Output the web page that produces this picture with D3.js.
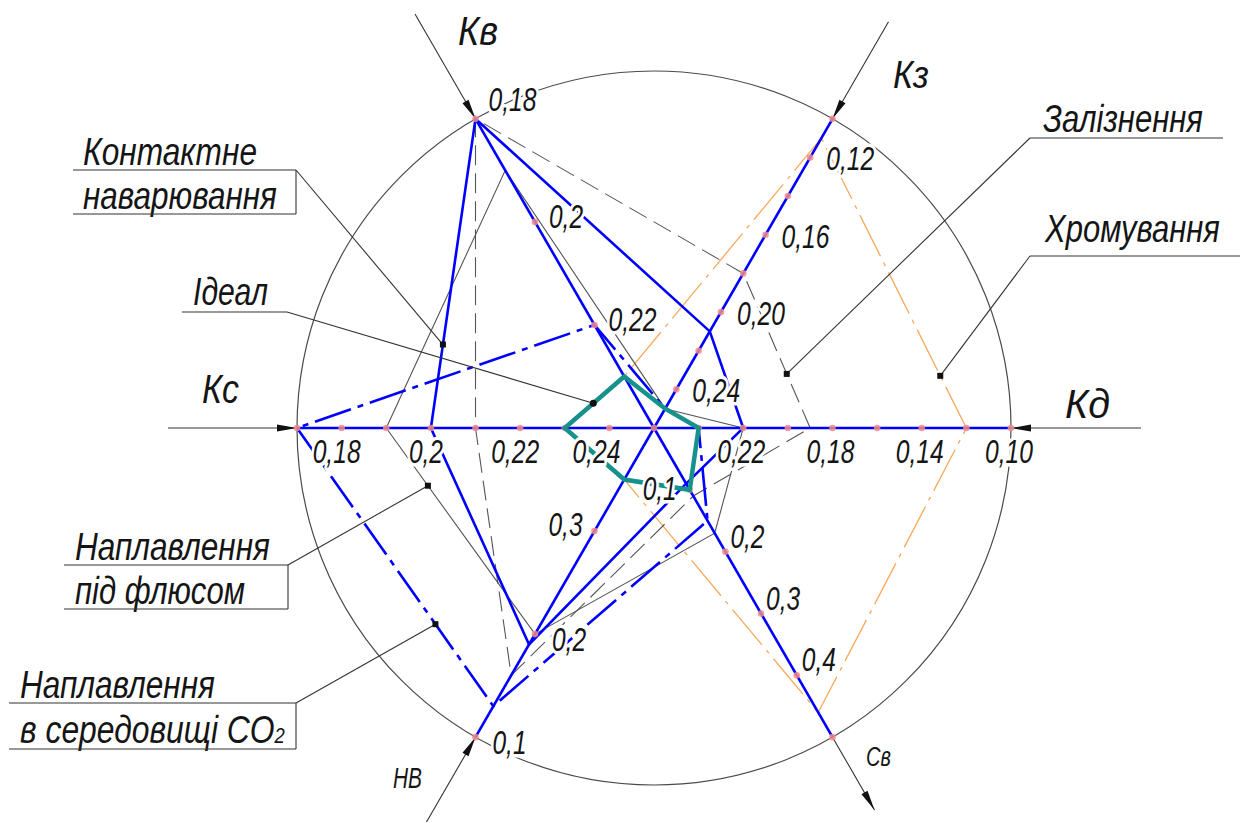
<!DOCTYPE html>
<html>
<head>
<meta charset="utf-8">
<script src="https://cdn.jsdelivr.net/npm/d3@7"></script>
<style>
  body { margin: 0; background: #fff; }
  text { font-family: "Liberation Sans", Arial, sans-serif; font-style: italic; fill: #151515; }
</style>
</head>
<body>
<svg id="chart"></svg>
<script>
// axes, going round counter-clockwise from the right
var axes = ["Кд", "Кз", "Кв", "Кс", "НВ", "Св"];
var axisAngle = [0, 60, 120, 180, 240, 300];
var axisCentre = [0.26, 0.26, 0.24, 0.25, 0.4, 0];
var axisEdge = [0.10, 0.10, 0.18, 0.17, 0.1, 0.5];

// tick dots on every axis
var axisTicks = [
    [0.24, 0.22, 0.20, 0.18, 0.16, 0.14, 0.12, 0.10],
    [0.24, 0.22, 0.20, 0.18, 0.16, 0.14, 0.12, 0.10],
    [0.22, 0.20, 0.18],
    [0.24, 0.23, 0.22, 0.21, 0.20, 0.19, 0.18, 0.17],
    [0.3, 0.2, 0.1],
    [0.1, 0.2, 0.3, 0.4, 0.5]
];
// labelled ticks and their text
var labelTicks = [
    [0.22, 0.18, 0.14, 0.10],
    [0.24, 0.20, 0.16, 0.12],
    [0.22, 0.20, 0.18],
    [0.24, 0.22, 0.20, 0.18],
    [0.3, 0.2, 0.1],
    [0.1, 0.2, 0.3, 0.4]
];
var labelTexts = [
    ["0,22", "0,18", "0,14", "0,10"],
    ["0,24", "0,20", "0,16", "0,12"],
    ["0,22", "0,2", "0,18"],
    ["0,24", "0,22", "0,2", "0,18"],
    ["0,3", "0,2", "0,1"],
    ["0,1", "0,2", "0,3", "0,4"]
];

// series values, same order as axes
var chrome  = [0.12, 0.11, 0.23, 0.23, 0.35, 0.46];
var iron    = [0.19, 0.18, 0.18, 0.21, 0.16, 0.11];
var flux    = [0.22, 0.25, 0.19, 0.19, 0.20, 0.17];
var co2     = [0.24, 0.25, 0.22, 0.17, 0.13, 0.15];
var contact = [0.22, 0.21, 0.18, 0.20, 0.19, 0.09];
var ideal   = [0.24, 0.25, 0.23, 0.23, 0.35, 0.10];

var W = 1252, H = 823;
var cx = 654, cy = 428, R = 357;

var svg = d3.select("#chart").attr("width", W).attr("height", H);

var scales = axes.map(function(a, i) {
    return d3.scaleLinear().domain([axisCentre[i], axisEdge[i]]).range([0, R]);
});

function unit(i) {
    var a = axisAngle[i] * Math.PI / 180;
    return [Math.cos(a), -Math.sin(a)];
}
function pointAt(i, r) {
    var u = unit(i);
    return [cx + r * u[0], cy + r * u[1]];
}
function point(i, v) {
    return pointAt(i, scales[i](v));
}

// outer circle
svg.append("circle")
    .attr("cx", cx).attr("cy", cy).attr("r", R)
    .attr("fill", "none").attr("stroke", "#4a4a4a").attr("stroke-width", 1.2);

// axis arrows outside the circle
var arrowLen = [130, 112, 121, 129, 98, 84];
var arrowIn = [true, true, true, true, true, false];
axes.forEach(function(a, i) {
    var u = unit(i);
    var p = pointAt(i, R), q = pointAt(i, R + arrowLen[i]);
    svg.append("line")
        .attr("x1", p[0]).attr("y1", p[1]).attr("x2", q[0]).attr("y2", q[1])
        .attr("stroke", "#333").attr("stroke-width", 1.1);
    var tip = arrowIn[i] ? p : q;
    var dir = arrowIn[i] ? 1 : -1;
    var b = [tip[0] + dir * 20 * u[0], tip[1] + dir * 20 * u[1]];
    var n = [-u[1] * 3.5, u[0] * 3.5];
    svg.append("path")
        .attr("d", "M" + tip + "L" + [b[0] + n[0], b[1] + n[1]] + "L" + [b[0] - n[0], b[1] - n[1]] + "Z")
        .attr("fill", "#111");
});

// series polygons
var polyLine = d3.line().curve(d3.curveLinearClosed);
function polygon(values) {
    return values.map(function(v, i) { return point(i, v); });
}

var series = [
    { name: "chrome", values: chrome, stroke: "#f9a95c", width: 1.3, dash: "46 7 4 7" },
    { name: "iron", values: iron, stroke: "#555", width: 1.1, dash: "20 8" },
    { name: "flux", values: flux, stroke: "#555", width: 1.1, dash: null },
    { name: "co2", values: co2, stroke: "#0000ff", width: 2.6, dash: "38 7 6 7" },
    { name: "contact", values: contact, stroke: "#0000ff", width: 2.6, dash: null }
];

series.forEach(function(s) {
    svg.append("path")
        .attr("d", polyLine(polygon(s.values)))
        .attr("fill", "none")
        .attr("stroke", s.stroke)
        .attr("stroke-width", s.width)
        .attr("stroke-dasharray", s.dash);
});

// blue axes
axes.forEach(function(a, i) {
    var p = pointAt(i, R);
    svg.append("line")
        .attr("x1", cx).attr("y1", cy).attr("x2", p[0]).attr("y2", p[1])
        .attr("stroke", "#0000ff").attr("stroke-width", 2.6);
});

// tick dots
axisTicks.forEach(function(ticks, i) {
    svg.selectAll(null).data(ticks).enter().append("circle")
        .attr("cx", function(d) { return point(i, d)[0]; })
        .attr("cy", function(d) { return point(i, d)[1]; })
        .attr("r", 3.3)
        .attr("fill", "#f28b8b").attr("opacity", 0.85);
});
svg.append("circle").attr("cx", cx).attr("cy", cy).attr("r", 3.3)
    .attr("fill", "#f28b8b").attr("opacity", 0.85);

// ideal on top
svg.append("path")
    .attr("d", polyLine(polygon(ideal)))
    .attr("fill", "none")
    .attr("stroke", "#17918c")
    .attr("stroke-width", 4.5)
    .attr("stroke-linejoin", "miter");

// narrow drawing-style text: squeeze a string horizontally to a given width
function narrowText(sel, x, y, width, anchor) {
    sel.attr("x", 0).attr("y", 0).attr("text-anchor", "start");
    var w = sel.node().getComputedTextLength();
    var k = width / w;
    var tx = anchor === "middle" ? x - width / 2 : anchor === "end" ? x - width : x;
    sel.attr("transform", "translate(" + tx + "," + y + ") scale(" + k + ",1)");
    return sel;
}
function digitWidth(txt) {
    return txt.replace(",", "").length * 14 + 6;
}

// tick labels (offset from the tick dot)
var labelShift = [
    { dx: -2, dy: 35, anchor: "middle" },
    { dx: 16, dy: 13, anchor: "start" },
    { dx: 14, dy: 6, anchor: "start" },
    { dx: -5, dy: 35, anchor: "middle" },
    { dx: 17, dy: 17, anchor: "start" },
    { dx: 5, dy: -4, anchor: "start" }
];
var labelOverride = {
    "2:0,18": { dx: 13, dy: -8 },
    "4:0,3": { dx: -12, dy: 5, anchor: "end" },
    "5:0,1": { dx: -13, dy: 10, anchor: "end" },
    "3:0,24": { dx: -13, dy: 35 }
};
labelTicks.forEach(function(ticks, i) {
    ticks.forEach(function(v, k) {
        var txt = labelTexts[i][k];
        var s = Object.assign({}, labelShift[i], labelOverride[i + ":" + txt] || {});
        var p = point(i, v);
        var t = svg.append("text")
            .style("font-size", "34px")
            .style("paint-order", "stroke")
            .style("stroke", "#fff").style("stroke-width", "7px").style("stroke-linejoin", "round")
            .text(txt);
        narrowText(t, p[0] + s.dx, p[1] + s.dy, digitWidth(txt), s.anchor);
    });
});

// axis names
var axisLabelPos = [[1065, 418, 40, 45], [893, 88, 38, 36], [458, 45, 40, 40], [202, 403, 40, 37], [393, 788, 29, 29], [866, 766, 28, 25]];
axes.forEach(function(a, i) {
    var t = svg.append("text")
        .style("font-size", axisLabelPos[i][2] + "px")
        .text(a);
    narrowText(t, axisLabelPos[i][0], axisLabelPos[i][1], axisLabelPos[i][3], "start");
});

// legend callouts: text lines, underline box, leader to an edge of the polygon
var legend = [
    { values: contact, lines: ["Контактне", "наварювання"], widths: [174, 194], x: 83, base: [165, 209], box: [73, 296, 170, 214], from: [296, 170], edge: [2, 3, 0.73], mark: "square" },
    { values: ideal, lines: ["Ідеал"], widths: [75], x: 193, base: [305], box: [182, 287, 312, null], from: [287, 312], edge: [2, 3, 0.52], mark: "dot" },
    { values: flux, lines: ["Наплавлення", "під флюсом"], widths: [195, 170], x: 75, base: [560, 604], box: [64, 288, 565, 609], from: [288, 565], edge: [3, 4, 0.28], mark: "square" },
    { values: co2, lines: ["Наплавлення", "в середовищі CO"], widths: [195, 265], x: 20, base: [698, 743], box: [9, 296, 703, 749], from: [296, 703], edge: [3, 4, 0.705], mark: "square" },
    { values: iron, lines: ["Залізнення"], widths: [160], x: 1043, base: [132], box: [1030, 1223, 138, null], from: [1030, 138], edge: [1, 0, 0.65], mark: "square" },
    { values: chrome, lines: ["Хромування"], widths: [175], x: 1045, base: [242], box: [1030, 1240, 256, null], from: [1030, 256], edge: [1, 0, 0.82], mark: "square" }
];

legend.forEach(function(l) {
    l.lines.forEach(function(t, k) {
        var tx = svg.append("text")
            .style("font-size", "38px")
            .text(t);
        if (t === "в середовищі CO") {
            tx.append("tspan").style("font-size", "22px").text("2");
        }
        narrowText(tx, l.x, l.base[k], l.widths[k], "start");
    });
    var b = l.box;
    var g = svg.append("g").attr("stroke", "#333").attr("stroke-width", 1.1).attr("fill", "none");
    g.append("line").attr("x1", b[0]).attr("x2", b[1]).attr("y1", b[2]).attr("y2", b[2]);
    if (b[3] !== null) {
        g.append("line").attr("x1", b[0]).attr("x2", b[1]).attr("y1", b[3]).attr("y2", b[3]);
        g.append("line").attr("x1", b[1]).attr("x2", b[1]).attr("y1", b[2]).attr("y2", b[3]);
    }
    var p1 = point(l.edge[0], l.values[l.edge[0]]);
    var p2 = point(l.edge[1], l.values[l.edge[1]]);
    var t = l.edge[2];
    var e = [p1[0] + (p2[0] - p1[0]) * t, p1[1] + (p2[1] - p1[1]) * t];
    g.append("line").attr("x1", l.from[0]).attr("y1", l.from[1]).attr("x2", e[0]).attr("y2", e[1]);
    if (l.mark === "dot") {
        svg.append("circle").attr("cx", e[0]).attr("cy", e[1]).attr("r", 3.5).attr("fill", "#111");
    } else {
        svg.append("rect").attr("x", e[0] - 3).attr("y", e[1] - 3).attr("width", 6).attr("height", 6).attr("fill", "#111");
    }
});
</script>
</body>
</html>
